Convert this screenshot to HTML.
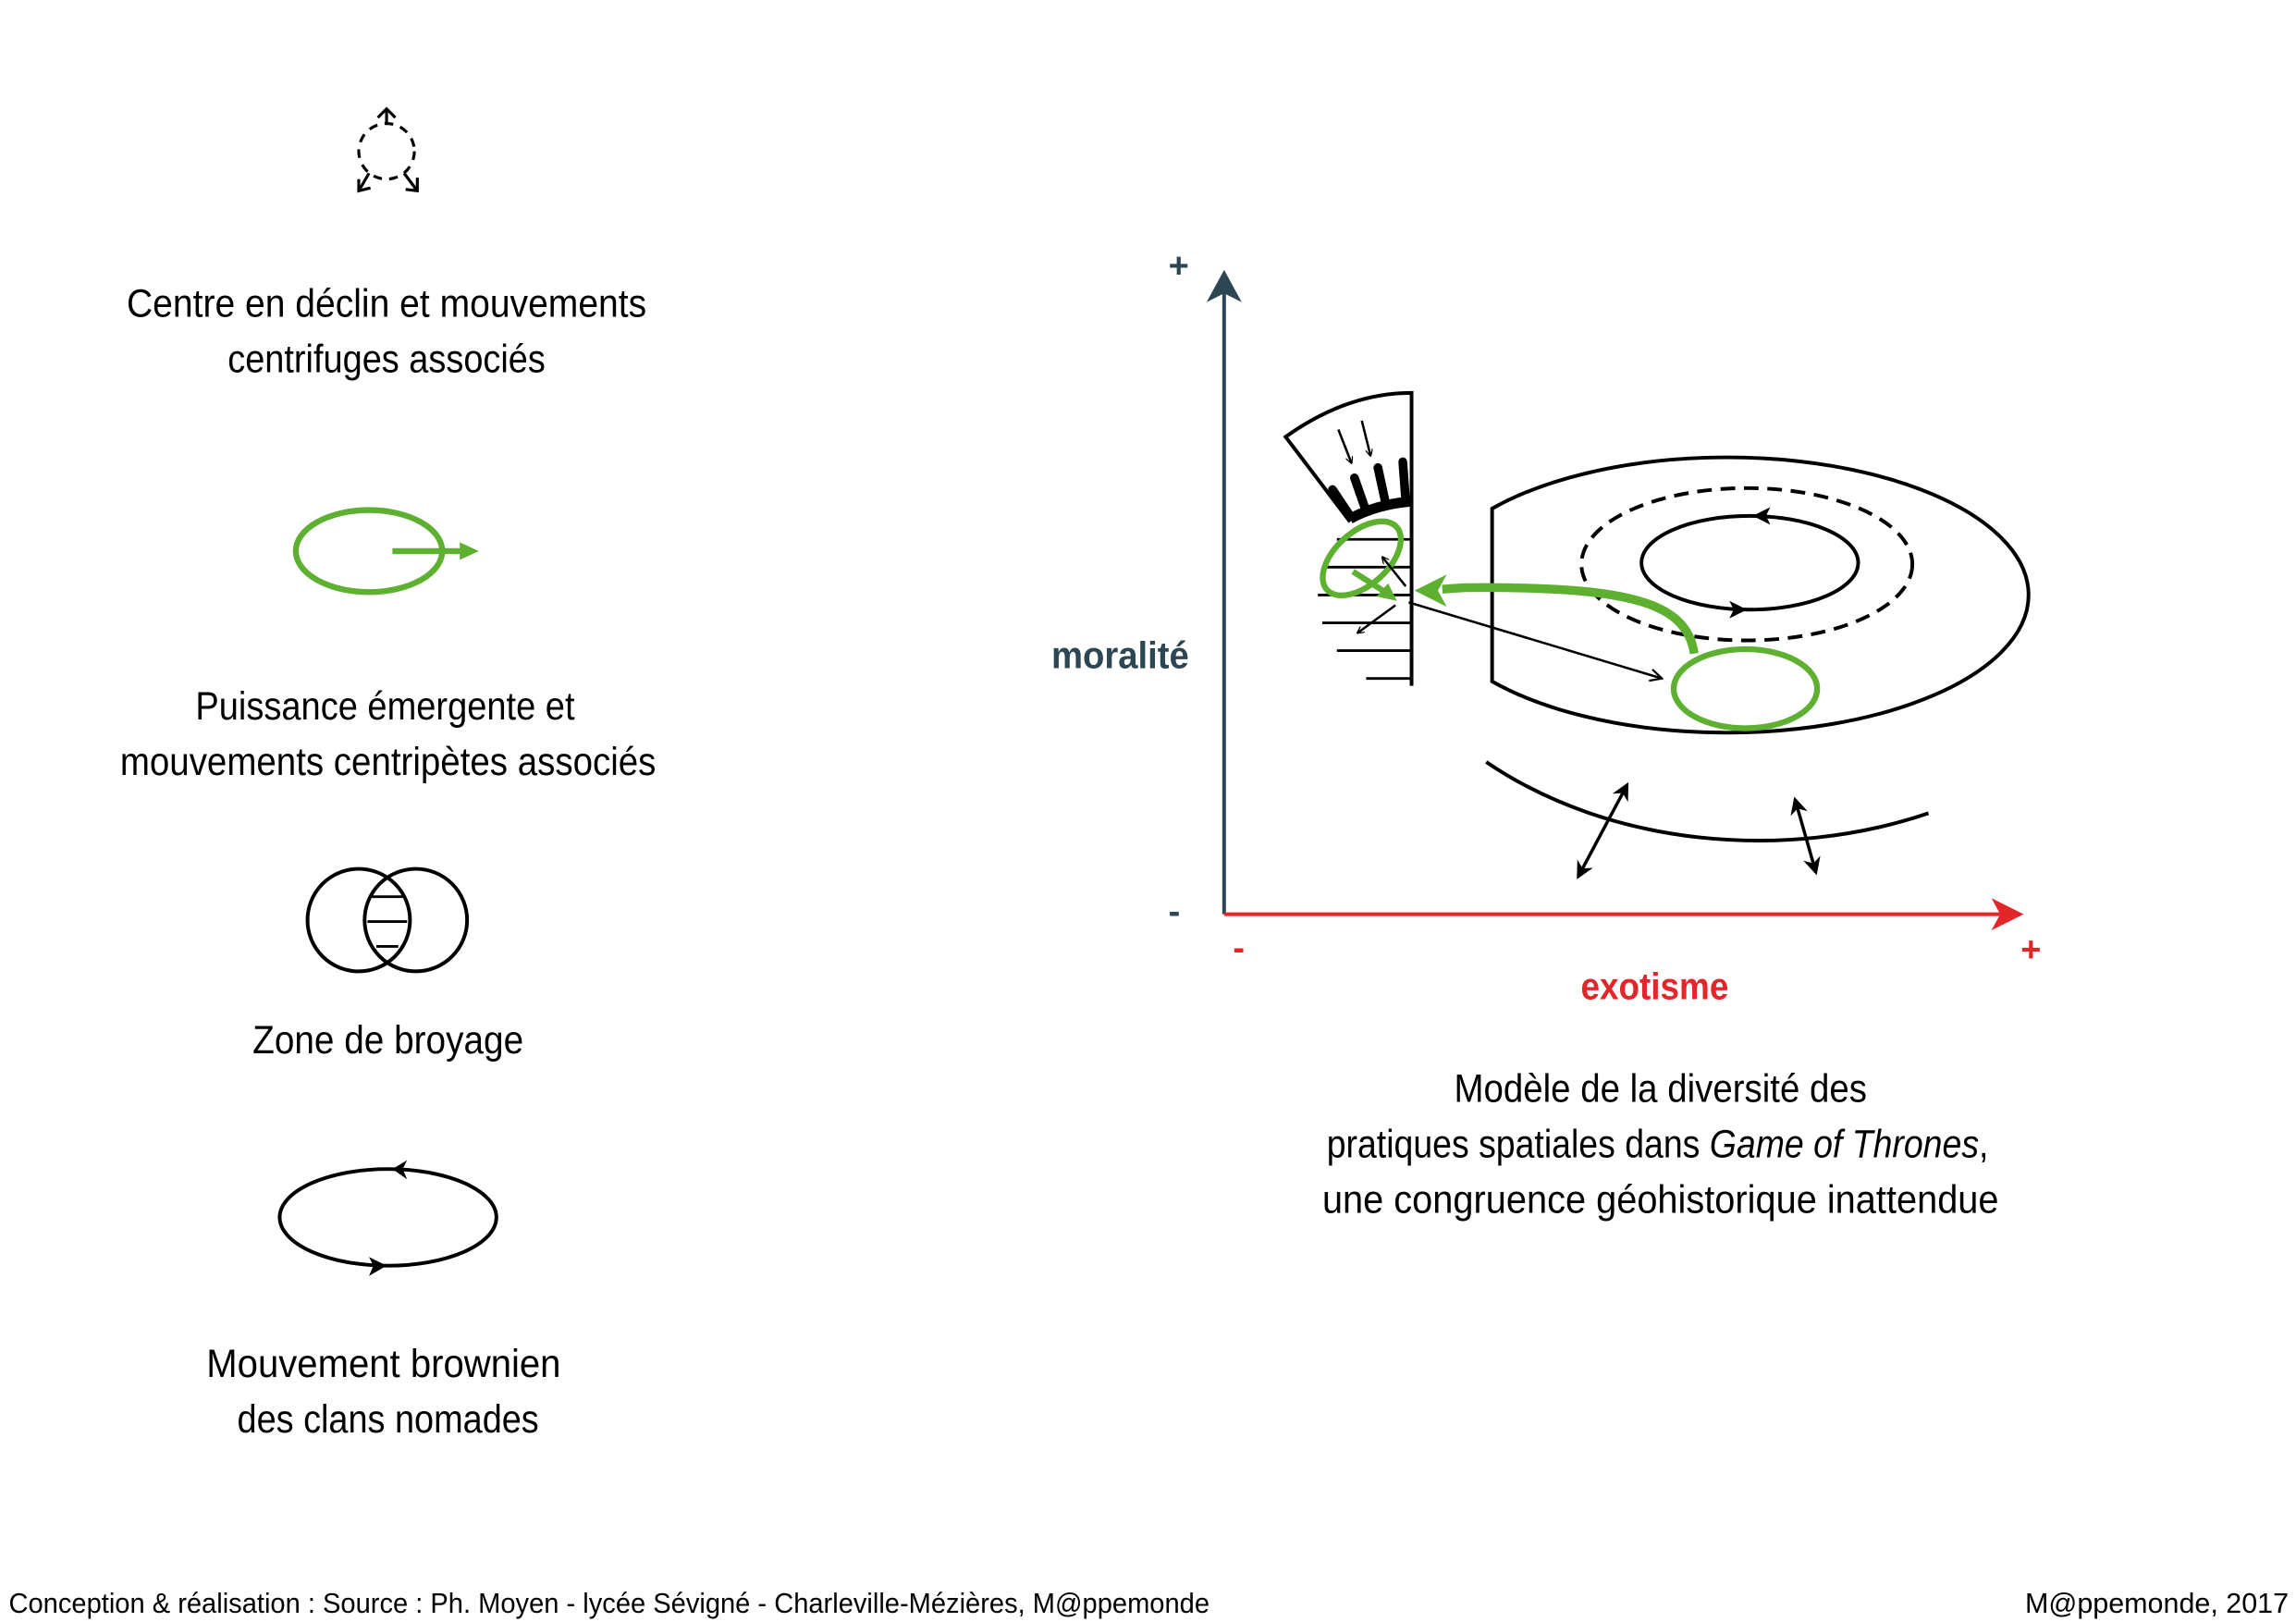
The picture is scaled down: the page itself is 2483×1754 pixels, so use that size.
<!DOCTYPE html>
<html><head><meta charset="utf-8"><style>
html,body{margin:0;padding:0;background:#fff;}
svg{display:block;}
text{font-family:"Liberation Sans Narrow","Liberation Sans",sans-serif;}
</style></head><body>
<svg width="2483" height="1754" viewBox="0 0 1568 1107" xmlns="http://www.w3.org/2000/svg">
<defs>
<marker id="ah" viewBox="0 0 10 10" refX="9" refY="5" markerWidth="5" markerHeight="5" orient="auto-start-reverse" markerUnits="userSpaceOnUse"><path d="M0,0 L10,5 L0,10" fill="none" stroke="#000" stroke-width="1.6"/></marker>
<marker id="ahf" viewBox="0 0 10 10" refX="8" refY="5" markerWidth="12" markerHeight="12" orient="auto-start-reverse" markerUnits="userSpaceOnUse"><path d="M0,0 L10,5 L0,10 L3,5 Z" fill="#000"/></marker>
<marker id="ao" viewBox="0 0 10 10" refX="9" refY="5" markerWidth="10" markerHeight="10" orient="auto" markerUnits="userSpaceOnUse"><path d="M1,1 L9,5 L1,9" fill="none" stroke="#000" stroke-width="1.4"/></marker>
</defs>
<rect width="1568" height="1107" fill="#fff"/>

<!-- Legend 1 -->
<circle cx="264" cy="103" r="19" fill="none" stroke="#000" stroke-width="2" stroke-dasharray="6 5"/>
<line x1="264" y1="85" x2="264" y2="74" stroke="#000" stroke-width="2"/>
<path d="M258,80 L264,74 L270,80" fill="none" stroke="#000" stroke-width="2"/>
<line x1="252" y1="118" x2="245" y2="130" stroke="#000" stroke-width="2"/>
<path d="M245,122 L245,130 L253,128" fill="none" stroke="#000" stroke-width="2"/>
<line x1="276" y1="118" x2="285" y2="130" stroke="#000" stroke-width="2"/>
<path d="M277,129 L285,130 L285,121" fill="none" stroke="#000" stroke-width="2"/>
<text x="264" y="216" font-size="27" text-anchor="middle" textLength="355" lengthAdjust="spacingAndGlyphs">Centre en déclin et mouvements</text>
<text x="264" y="254" font-size="27" text-anchor="middle" textLength="217" lengthAdjust="spacingAndGlyphs">centrifuges associés</text>

<!-- Legend 2 -->
<ellipse cx="252" cy="376" rx="50" ry="28" fill="none" stroke="#5db030" stroke-width="4"/>
<line x1="268" y1="376" x2="318" y2="376" stroke="#5db030" stroke-width="4"/>
<path d="M314,370 L327,376 L314,382 Z" fill="#5db030"/>
<text x="263" y="491" font-size="27" text-anchor="middle" textLength="259" lengthAdjust="spacingAndGlyphs">Puissance émergente et</text>
<text x="265" y="529" font-size="27" text-anchor="middle" textLength="366" lengthAdjust="spacingAndGlyphs">mouvements centripètes associés</text>

<!-- Legend 3 -->
<circle cx="245" cy="628" r="35" fill="none" stroke="#000" stroke-width="2.5"/>
<circle cx="284" cy="628" r="35" fill="none" stroke="#000" stroke-width="2.5"/>
<line x1="254" y1="612" x2="275" y2="612" stroke="#000" stroke-width="1.8"/>
<line x1="251" y1="629" x2="278" y2="629" stroke="#000" stroke-width="1.8"/>
<line x1="257" y1="646" x2="272" y2="646" stroke="#000" stroke-width="1.8"/>
<text x="265" y="719" font-size="27" text-anchor="middle" textLength="185" lengthAdjust="spacingAndGlyphs">Zone de broyage</text>

<!-- Legend 4 -->
<ellipse cx="265" cy="831" rx="74" ry="33" fill="none" stroke="#000" stroke-width="2.5"/>
<path d="M268,798 L278,792 L275,798 L278,805 Z" fill="#000" transform="rotate(0)"/>
<path d="M264,864 L252,858 L255,864 L252,871 Z" fill="#000"/>
<text x="262" y="940" font-size="27" text-anchor="middle" textLength="242" lengthAdjust="spacingAndGlyphs">Mouvement brownien</text>
<text x="265" y="978" font-size="27" text-anchor="middle" textLength="206" lengthAdjust="spacingAndGlyphs">des clans nomades</text>

<!-- Axes -->
<line x1="836" y1="624" x2="836" y2="196" stroke="#2c4653" stroke-width="2.5"/>
<path d="M836,184 L848,206 L836,200 L824,206 Z" fill="#2c4653"/>
<text x="805" y="189" font-size="24" fill="#2c4653" text-anchor="middle" font-weight="bold">+</text>
<text x="802" y="630" font-size="24" fill="#2c4653" text-anchor="middle" font-weight="bold">-</text>
<line x1="836" y1="624" x2="1370" y2="624" stroke="#e3262a" stroke-width="2.5"/>
<path d="M1382,624 L1360,613 L1366,624 L1360,635 Z" fill="#e3262a"/>
<text x="846" y="655" font-size="24" fill="#e3262a" text-anchor="middle" font-weight="bold">-</text>
<text x="1387" y="656" font-size="24" fill="#e3262a" text-anchor="middle" font-weight="bold">+</text>
<text x="765" y="456" font-size="26" fill="#2c4653" text-anchor="middle" font-weight="bold" textLength="94" lengthAdjust="spacingAndGlyphs">moralité</text>
<text x="1130" y="682" font-size="26" fill="#e3262a" text-anchor="middle" font-weight="bold" textLength="101" lengthAdjust="spacingAndGlyphs">exotisme</text>

<!-- Sector -->
<path d="M922,356 L878,298 Q920,268 964,268 L964,468" fill="none" stroke="#000" stroke-width="2.5"/>
<path d="M922,354 Q940,344 965,342" fill="none" stroke="#000" stroke-width="7"/>
<g stroke="#000" stroke-width="6" stroke-linecap="round">
<line x1="910" y1="334" x2="922" y2="352"/>
<line x1="925" y1="326" x2="932" y2="346"/>
<line x1="941" y1="319" x2="946" y2="342"/>
<line x1="958" y1="315" x2="960" y2="342"/>
</g>
<line x1="914" y1="293" x2="923" y2="316" stroke="#000" stroke-width="1.6" marker-end="url(#ah)"/>
<line x1="930" y1="287" x2="936" y2="311" stroke="#000" stroke-width="1.6" marker-end="url(#ah)"/>
<g stroke="#000" stroke-width="1.8">
<line x1="913" y1="368" x2="964" y2="368"/>
<line x1="906" y1="387" x2="964" y2="387"/>
<line x1="900" y1="406" x2="964" y2="406"/>
<line x1="903" y1="425" x2="964" y2="425"/>
<line x1="913" y1="444" x2="964" y2="444"/>
<line x1="933" y1="463" x2="964" y2="463"/>
</g>
<ellipse cx="930" cy="381" rx="32" ry="18" transform="rotate(-42 930 381)" fill="none" stroke="#5db030" stroke-width="4"/>
<line x1="924" y1="390" x2="946" y2="404" stroke="#5db030" stroke-width="4"/>
<path d="M954,410 L940,407 L948,398 Z" fill="#5db030"/>
<line x1="960" y1="400" x2="944" y2="380" stroke="#000" stroke-width="1.6" marker-end="url(#ah)"/>
<line x1="953" y1="413" x2="927" y2="432" stroke="#000" stroke-width="1.6" marker-end="url(#ah)"/>

<!-- Big shape -->
<path d="M1019,347 A206,94 0 1,1 1019,465 Z" fill="none" stroke="#000" stroke-width="2.5"/>
<ellipse cx="1193" cy="385" rx="113" ry="52" fill="none" stroke="#000" stroke-width="2.5" stroke-dasharray="10 6"/>
<ellipse cx="1195" cy="384" rx="74" ry="32" fill="none" stroke="#000" stroke-width="2.5"/>
<path d="M1197,352 L1209,346 L1206,352 L1209,358 Z" fill="#000"/>
<path d="M1193,416 L1181,410 L1184,416 L1181,422 Z" fill="#000"/>
<line x1="962" y1="411" x2="1135" y2="463" stroke="#000" stroke-width="1.6" marker-end="url(#ao)"/>
<path d="M1157,446 C1152,410 1110,400 1000,401 L985,402" fill="none" stroke="#5db030" stroke-width="6"/>
<path d="M966,403 L988,392 L982,403 L988,414 Z" fill="#5db030"/>
<ellipse cx="1192" cy="470" rx="49" ry="27" fill="none" stroke="#5db030" stroke-width="4"/>

<!-- lower arc -->
<path d="M1015,520 C1100,578 1220,588 1317,555" fill="none" stroke="#000" stroke-width="2.5"/>
<line x1="1078" y1="598" x2="1111" y2="536" stroke="#000" stroke-width="2.2" marker-start="url(#ahf)" marker-end="url(#ahf)"/>
<line x1="1240" y1="595" x2="1226" y2="546" stroke="#000" stroke-width="2.2" marker-start="url(#ahf)" marker-end="url(#ahf)"/>

<!-- Caption -->
<text x="1134" y="752" font-size="27" text-anchor="middle" textLength="282" lengthAdjust="spacingAndGlyphs">Modèle de la diversité des</text>
<text x="906" y="790" font-size="27" textLength="452" lengthAdjust="spacingAndGlyphs">pratiques spatiales dans  <tspan font-style="italic">Game of Thrones</tspan>,</text>
<text x="1134" y="828" font-size="27" text-anchor="middle" textLength="462" lengthAdjust="spacingAndGlyphs">une congruence géohistorique inattendue</text>

<!-- Footer -->
<text x="6" y="1101" font-size="19" textLength="820" lengthAdjust="spacingAndGlyphs">Conception &amp; réalisation : Source : Ph. Moyen - lycée Sévigné - Charleville-Mézières, M@ppemonde</text>
<text x="1383" y="1101" font-size="19" textLength="180" lengthAdjust="spacingAndGlyphs">M@ppemonde, 2017</text>
</svg>
</body></html>
